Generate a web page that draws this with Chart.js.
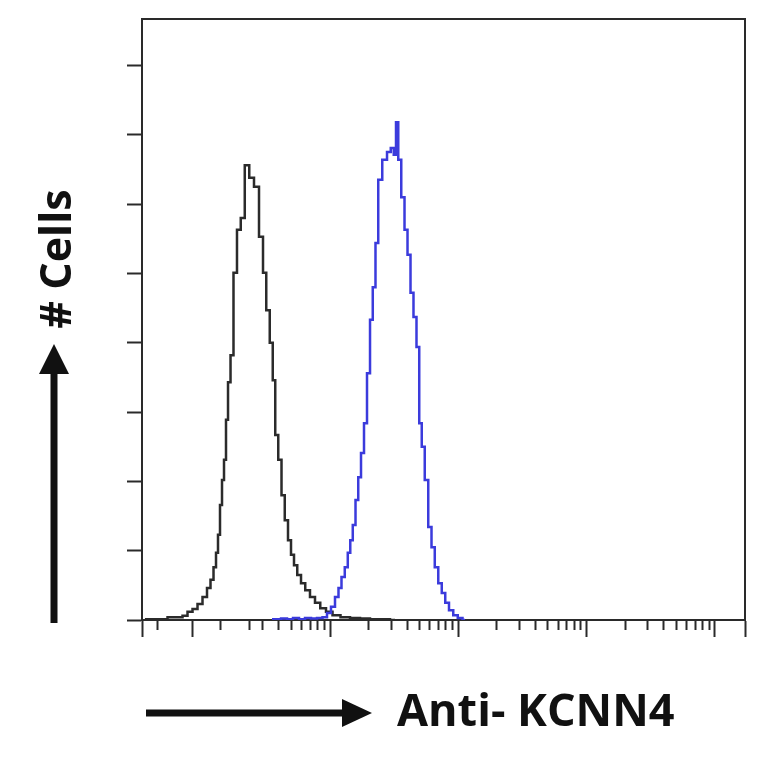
<!DOCTYPE html>
<html>
<head>
<meta charset="utf-8">
<script src="https://cdn.jsdelivr.net/npm/chart.js@4.4.1/dist/chart.umd.min.js"></script>
<style>
  html, body { margin: 0; padding: 0; background: #fff; }
  #marco { position: relative; width: 764px; height: 764px; }
  #grafica { position: absolute; left: 0; top: 0; }
  svg { position: absolute; left: 0; top: 0; }
  .titulo { position: absolute; font-family: "Open Sans", sans-serif; font-weight: 700; color: #111; white-space: nowrap; line-height: 1; }
  #tituloY { left: 54px; top: 259px; font-size: 43px; transform: translate(-50%, -50%) rotate(-90deg); }
  #tituloX { left: 397px; top: 686px; font-size: 45px; }
</style>
</head>
<body>
<div id="marco">
  <canvas id="grafica" width="764" height="764"></canvas>
  <svg width="764" height="764">
    <line x1="54" y1="623" x2="54" y2="370" stroke="#111" stroke-width="7"/>
    <polygon points="54,344 39,374 69,374" fill="#111"/>
    <line x1="146" y1="713" x2="346" y2="713" stroke="#111" stroke-width="7"/>
    <polygon points="372,713 342,699 342,727" fill="#111"/>
  </svg>
  <div class="titulo" id="tituloY"># Cells</div>
  <div class="titulo" id="tituloX">Anti- KCNN4</div>
</div>
<script>
// Rango del eje X (intensidad, escala logaritmica)
const xMin = 0.3425;
const xMax = 17160;
// Marcas del eje X
const marcasMayores = [0.3425, 0.855, 10, 100, 1000, 10000, 17160];
const marcasMenores = [0.456, 1.41, 2.34, 3, 4, 5, 6, 7, 8, 9,
    20, 30, 40, 50, 60, 70, 80, 90,
    200, 300, 400, 500, 600, 700, 800, 900,
    2000, 3000, 4000, 5000, 6000, 7000, 8000, 9000];
// Eje Y (# celulas)
const yMax = 867;
const marcasY = [0, 100, 200, 300, 400, 500, 600, 700, 800];

// Control (negro)
const intensidadControl = [0.361, 0.395, 0.4325, 0.473, 0.518, 0.566, 0.619, 0.678, 0.741, 0.811,
    0.887, 0.970, 1.061, 1.140, 1.203, 1.270, 1.316, 1.364, 1.414, 1.466,
    1.519, 1.575, 1.633, 1.723, 1.817, 1.953, 2.080, 2.255, 2.444, 2.674,
    2.925, 3.087, 3.287, 3.499, 3.660, 3.828, 4.077, 4.302, 4.581, 4.834,
    5.102, 5.384, 5.734, 6.160, 6.676, 7.303, 7.991, 8.820, 9.822, 11.14,
    13.09, 15.66, 18.74, 22.42, 26.84, 32.11];
const celulasControl = [1, 1, 1, 1, 1, 4, 4, 4, 6, 12,
    16, 23, 33, 46, 58, 76, 97, 123, 166, 202,
    231, 289, 343, 382, 501, 563, 580, 656, 638, 625,
    553, 501, 447, 400, 346, 267, 231, 180, 144, 115,
    94, 79, 65, 53, 43, 33, 25, 17, 12, 7,
    4, 3, 2, 1, 1, 0];

// Anti-KCNN4 (azul)
const intensidadKCNN4 = [3.531, 3.933, 4.381, 4.878, 5.433, 6.050, 6.737, 7.504, 8.358, 9.141,
    9.822, 10.55, 11.34, 11.96, 12.63, 13.45, 14.07, 14.71, 15.39, 16.23,
    16.98, 17.92, 18.91, 19.96, 21.07, 22.02, 23.24, 24.31, 26.84, 28.84,
    30.70, 32.11, 33.29, 34.81, 37.07, 39.12, 41.28, 43.56, 45.96, 48.51,
    50.73, 53.06, 56.51, 60.17, 63.51, 67.64, 72.02, 76.66, 81.63, 87.71,
    95.10, 103.1, 112.8];
const celulasKCNN4 = [1, 1, 2, 1, 3, 1, 3, 2, 3, 4,
    10, 19, 33, 46, 62, 76, 97, 115, 137, 173,
    206, 241, 284, 356, 433, 480, 544, 635, 664, 675,
    681, 671, 718, 664, 610, 563, 527, 472, 437, 394,
    284, 250, 202, 134, 105, 76, 53, 39, 25, 14,
    7, 3, 0];

const colorEje = '#2a2a2a';

function aPuntos(xs, ys) {
    return xs.map((x, i) => ({ x: x, y: ys[i] }));
}

const ctx = document.getElementById('grafica').getContext('2d');
const grafica = new Chart(ctx, {
    type: 'line',
    data: {
        datasets: [
            {
                label: 'Anti-KCNN4',
                data: aPuntos(intensidadKCNN4, celulasKCNN4),
                borderColor: '#3b3bdc',
                borderWidth: 2.5,
                pointRadius: 0,
                stepped: 'middle',
                fill: false,
            },
            {
                label: 'Control',
                data: aPuntos(intensidadControl, celulasControl),
                borderColor: '#2b2b2b',
                borderWidth: 2.5,
                pointRadius: 0,
                stepped: 'middle',
                fill: false,
            },
        ],
    },
    options: {
        responsive: false,
        animation: false,
        devicePixelRatio: 1,
        layout: { padding: { left: 127, right: 19, top: 19, bottom: 127 } },
        plugins: { legend: { display: false }, tooltip: { enabled: false } },
        scales: {
            // eje principal: marcas largas (decadas y bordes)
            x: {
                type: 'logarithmic',
                position: 'bottom',
                bounds: 'data',
                min: xMin,
                max: xMax,
                afterBuildTicks: (eje) => { eje.ticks = marcasMayores.map(v => ({ value: v })); },
                ticks: { display: false },
                grid: { drawOnChartArea: false, tickLength: 17, tickWidth: 2, tickColor: colorEje },
                border: { color: colorEje, width: 2 },
            },
            // marcas cortas sobre la misma linea base
            xMenor: {
                type: 'logarithmic',
                axis: 'x',
                position: { y: 0 },
                bounds: 'data',
                min: xMin,
                max: xMax,
                afterBuildTicks: (eje) => { eje.ticks = marcasMenores.map(v => ({ value: v })); },
                ticks: { display: false },
                grid: { drawOnChartArea: false, tickLength: 10, tickWidth: 2, tickColor: colorEje },
                border: { display: false },
            },
            // borde superior del marco
            xSup: {
                type: 'linear',
                axis: 'x',
                position: 'top',
                min: 0,
                max: 1,
                ticks: { display: false },
                grid: { drawOnChartArea: false, drawTicks: false },
                border: { color: colorEje, width: 2 },
            },
            y: {
                type: 'linear',
                position: 'left',
                min: 0,
                max: yMax,
                afterBuildTicks: (eje) => { eje.ticks = marcasY.map(v => ({ value: v })); },
                ticks: { display: false },
                grid: { drawOnChartArea: false, tickLength: 15, tickWidth: 2, tickColor: colorEje },
                border: { color: colorEje, width: 2 },
            },
            // borde derecho del marco
            yDer: {
                type: 'linear',
                axis: 'y',
                position: 'right',
                min: 0,
                max: 1,
                ticks: { display: false },
                grid: { drawOnChartArea: false, drawTicks: false },
                border: { color: colorEje, width: 2 },
            },
        },
    },
});
</script>
</body>
</html>
